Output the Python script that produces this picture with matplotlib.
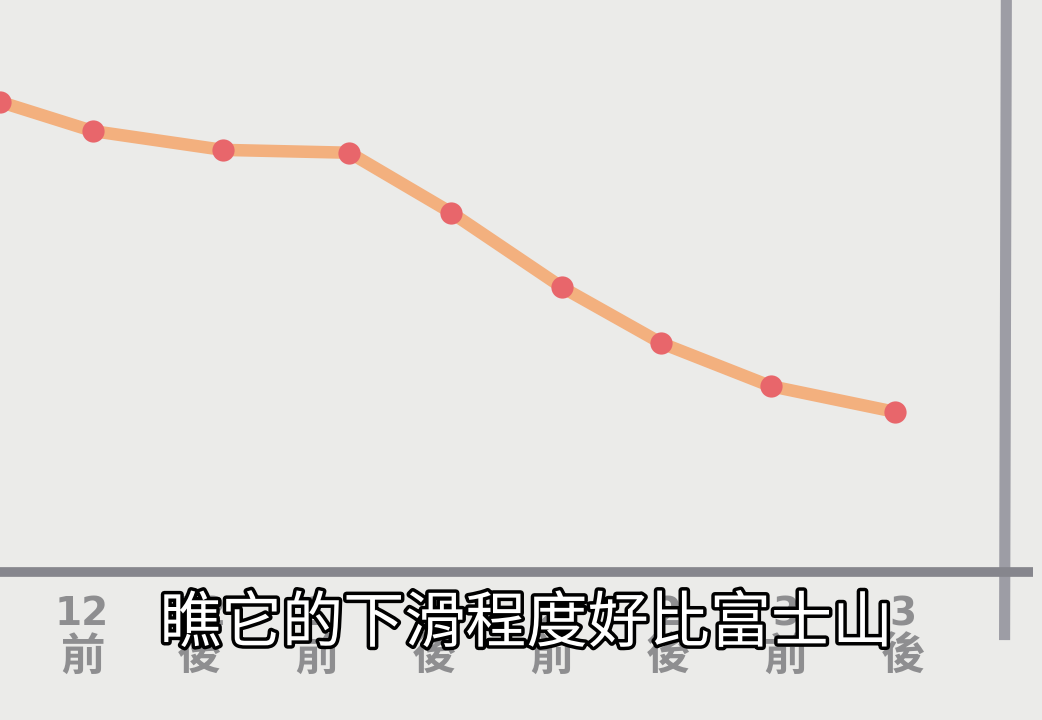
import matplotlib
matplotlib.use("Agg")
import matplotlib.pyplot as plt
import matplotlib.patheffects as pe

# readings (x in tick units, y in arbitrary units above the base line)
point_x = [-0.70, 0.09, 1.20, 2.28, 3.15, 4.09, 4.94, 5.87, 6.93]
point_y = [82.2, 77.1, 73.8, 73.3, 62.8, 49.8, 40.0, 32.5, 28.0]

tick_pos = [0, 1, 2, 3, 4, 5, 6, 7]
tick_top = ["12", "12", "1", "1", "2", "2", "3", "3"]
tick_bottom = ["前", "後", "前", "後", "前", "後", "前", "後"]

subtitle = "瞧它的下滑程度好比富士山"

BG = "#ebebe9"
LINE = "#f3b07e"
DOT = "#e8666b"
AXIS_H = "#86868d"
AXIS_V = "#9d9da5"
LABEL = "#8e8e90"

plt.rcParams['font.family'] = ['Noto Sans CJK TC', 'DejaVu Sans']

fig = plt.figure(figsize=(10.42, 7.2), dpi=100)
fig.patch.set_facecolor(BG)
ax = fig.add_axes([0, 0, 1, 1])
ax.set_facecolor(BG)
ax.set_xlim(-0.699, 8.184)
ax.set_ylim(-25.87, 100)
ax.set_axis_off()

# axes frame: right vertical bar and base line
ax.plot([7.88, 7.865], [100, -11.9], color=AXIS_V, lw=8, solid_capstyle='butt', zorder=1)
ax.plot([-0.8, 8.11], [0, 0], color=AXIS_H, lw=7, solid_capstyle='butt', zorder=2)

ax.plot(point_x, point_y, color=LINE, lw=9, solid_joinstyle='round',
        solid_capstyle='round', zorder=3)
ax.scatter(point_x, point_y, s=16**2, color=DOT, zorder=4, linewidths=0)

for xp, top, bot in zip(tick_pos, tick_top, tick_bottom):
    ax.text(xp, -7.4, top, ha='center', va='center', fontsize=28,
            fontweight='bold', color=LABEL, family=['DejaVu Sans'], zorder=2)
    ax.text(xp, -14.9, bot, ha='center', va='center', fontsize=32,
            fontweight='bold', color=LABEL, zorder=2)

ax.text(3.79, -9.2, subtitle, ha='center', va='center', fontsize=44,
        color='white', zorder=10,
        path_effects=[pe.withStroke(linewidth=5, foreground='black')])

fig.savefig("out.png", dpi=100, facecolor=BG)
